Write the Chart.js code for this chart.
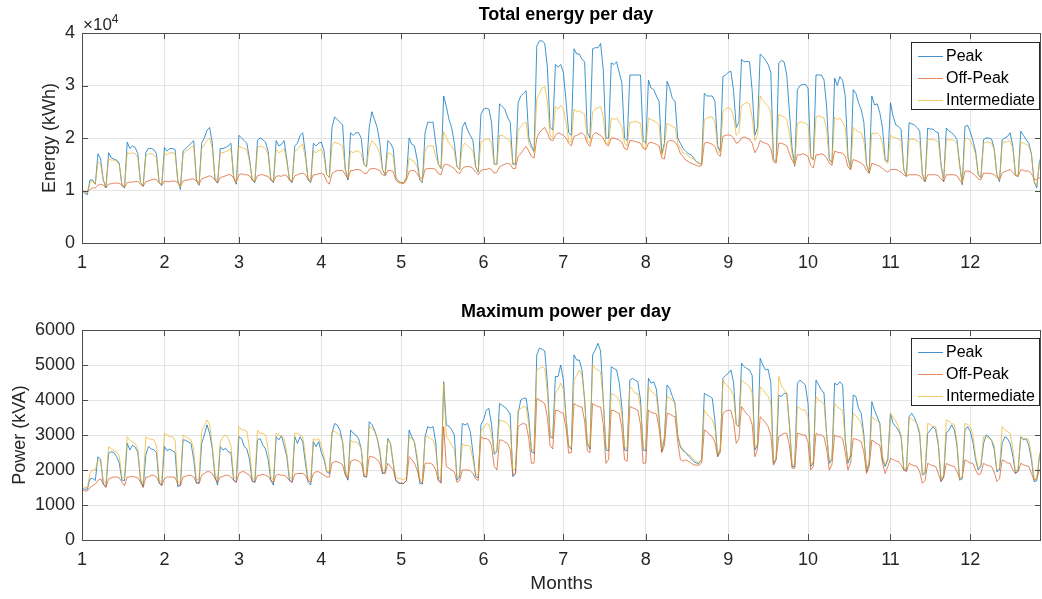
<!DOCTYPE html>
<html>
<head>
<meta charset="utf-8">
<title>Energy and power per day</title>
<script src="https://cdn.jsdelivr.net/npm/chart.js@4.4.0/dist/chart.umd.min.js"></script>
<style>
  body { margin: 0; width: 1042px; height: 599px; background: #fff; position: relative; overflow: hidden;
         font-family: "Liberation Sans", Arial, Helvetica, sans-serif; }
  .wrap { position: absolute; left: 0; width: 1042px; }
  .title { position: absolute; font-weight: bold; font-size: 18px; color: #000; transform: translateX(-50%); white-space: nowrap; }
  .exp { position: absolute; left: 83px; top: 12px; font-size: 17px; color: #262626; }
  .exp sup { font-size: 12px; }
  .legend { position: absolute; left: 911px; width: 127px; height: 66px; border: 1px solid #262626; background: #fff;
            font-size: 16px; color: #000; }
  .legend .row { position: absolute; left: 6px; height: 22px; line-height: 22px; white-space: nowrap; }
  .legend .sw { display: inline-block; width: 25px; height: 0; border-top: 1px solid; vertical-align: middle; margin-right: 3px; }
</style>
</head>
<body>
<div class="wrap" style="top:0;height:275px"><canvas id="energyChart" width="1042" height="275"></canvas></div>
<div class="wrap" style="top:275px;height:324px"><canvas id="powerChart" width="1042" height="324"></canvas></div>
<div class="title" style="left:566px;top:4px">Total energy per day</div>
<div class="title" style="left:566px;top:301px">Maximum power per day</div>
<div class="exp">&times;10<sup>4</sup></div>
<div class="legend" id="energyLegend" style="top:42px"></div>
<div class="legend" id="powerLegend" style="top:338px"></div>

<script>
// x axis is the day of the year (day 0 = 1 January), ticks at the first of each month
const monthStarts = [0, 31, 59, 90, 120, 151, 181, 212, 243, 273, 304, 334];
const monthLabels = ['1', '2', '3', '4', '5', '6', '7', '8', '9', '10', '11', '12'];
const seriesNames = ['Peak', 'Off-Peak', 'Intermediate'];
const seriesColors = ['rgba(0,114,189,0.75)', 'rgba(217,83,25,0.7)', 'rgba(237,177,32,0.7)'];
const energyTicks = [0, 1, 2, 3, 4];
const powerTicks = [0, 1000, 2000, 3000, 4000, 5000, 6000];

// Total energy per day, x10^4 kWh (one line per week, Mon..Sun)
const energyPeak = [
  1.00, 0.95, 0.92,
  1.20, 1.20, 1.12, 1.70, 1.60, 1.20, 1.05,
  1.72, 1.62, 1.60, 1.58, 1.52, 1.10, 1.05,
  1.92, 1.80, 1.85, 1.82, 1.70, 1.15, 1.08,
  1.72, 1.80, 1.80, 1.78, 1.70, 1.15, 1.10,
  1.82, 1.75, 1.80, 1.80, 1.78, 1.20, 1.02,
  1.75, 1.80, 1.85, 1.90, 1.95, 1.20, 1.10,
  1.90, 2.00, 2.15, 2.20, 1.90, 1.20, 1.15,
  1.80, 1.80, 1.82, 1.85, 1.90, 1.25, 1.12,
  2.05, 2.00, 1.95, 1.90, 1.60, 1.20, 1.15,
  1.95, 2.00, 1.97, 1.92, 1.75, 1.20, 1.15,
  1.95, 1.85, 1.88, 1.95, 1.60, 1.20, 1.15,
  1.85, 1.90, 2.05, 2.10, 1.70, 1.20, 1.15,
  1.90, 1.85, 1.90, 1.92, 1.75, 1.30, 1.25,
  2.20, 2.40, 2.35, 2.30, 2.25, 1.40, 1.20,
  2.10, 2.05, 2.10, 2.10, 2.00, 1.50, 1.45,
  2.20, 2.50, 2.35, 2.20, 1.90, 1.40, 1.30,
  1.95, 1.90, 1.80, 1.25, 1.18, 1.15, 1.15,
  1.25, 2.00, 1.88, 1.85, 1.60, 1.20, 1.15,
  2.10, 2.30, 2.30, 2.30, 1.90, 1.50, 1.42,
  2.80, 2.60, 2.35, 2.20, 1.90, 1.45, 1.40,
  2.20, 2.30, 2.15, 2.05, 1.95, 1.45, 1.35,
  2.45, 2.55, 2.57, 2.55, 2.30, 1.50, 1.50,
  2.65, 2.60, 2.55, 2.40, 2.30, 1.50, 1.50,
  2.67, 2.80, 2.85, 2.90, 2.00, 1.85, 1.75,
  3.75, 3.85, 3.85, 3.80, 3.35, 2.20, 2.15,
  3.40, 3.35, 3.40, 3.25, 2.70, 2.10, 2.05,
  3.70, 3.60, 3.60, 3.50, 3.45, 2.10, 2.00,
  3.70, 3.72, 3.72, 3.80, 3.30, 2.00, 2.00,
  3.43, 3.40, 3.45, 3.25, 3.05, 2.00, 1.95,
  3.20, 3.20, 3.20, 3.20, 3.20, 1.95, 1.90,
  3.10, 2.95, 2.92, 2.80, 2.70, 1.70, 1.90,
  3.08, 2.95, 2.75, 2.70, 2.00, 1.90, 1.80,
  1.75, 1.70, 1.68, 1.62, 1.55, 1.52, 1.50,
  2.85, 2.80, 2.80, 2.80, 2.70, 1.85, 1.75,
  3.17, 3.20, 3.25, 3.27, 2.90, 2.20, 2.30,
  3.50, 3.45, 3.46, 3.45, 2.90, 2.05, 2.20,
  3.60, 3.55, 3.48, 3.40, 3.25, 1.60, 1.55,
  3.43, 3.48, 3.45, 3.20, 2.50, 1.80, 1.46,
  2.92, 3.00, 3.02, 3.02, 2.95, 1.65, 1.59,
  3.20, 3.20, 3.20, 3.11, 2.60, 1.60, 1.52,
  3.14, 3.00, 3.17, 3.10, 2.80, 1.65, 1.40,
  2.92, 2.85, 2.67, 2.54, 2.30, 1.50, 1.33,
  2.80, 2.63, 2.65, 2.48, 2.20, 1.59, 1.55,
  2.67, 2.41, 2.25, 2.22, 2.16, 1.40, 1.27,
  2.29, 2.27, 2.25, 2.20, 2.13, 1.30, 1.17,
  2.19, 2.17, 2.17, 2.12, 2.10, 1.50, 1.17,
  2.19, 2.13, 2.10, 2.05, 1.97, 1.50, 1.11,
  2.22, 2.24, 2.12, 1.95, 1.75, 1.30, 1.24,
  1.97, 2.00, 2.00, 1.98, 1.80, 1.30, 1.17,
  1.97, 2.00, 2.03, 2.10, 1.85, 1.30, 1.27,
  2.13, 2.05, 1.97, 1.90, 1.70, 1.17, 1.05,
  1.55, 1.70
];

const energyOffPeak = [
  1.00, 0.98, 0.97,
  1.02, 1.05, 1.05, 1.10, 1.12, 1.10, 1.05,
  1.12, 1.13, 1.14, 1.14, 1.14, 1.10, 1.06,
  1.15, 1.16, 1.16, 1.17, 1.17, 1.12, 1.08,
  1.17, 1.18, 1.20, 1.22, 1.20, 1.15, 1.10,
  1.18, 1.17, 1.17, 1.18, 1.18, 1.15, 1.08,
  1.18, 1.20, 1.20, 1.22, 1.22, 1.18, 1.12,
  1.22, 1.24, 1.26, 1.28, 1.26, 1.20, 1.14,
  1.25, 1.26, 1.28, 1.30, 1.30, 1.24, 1.15,
  1.30, 1.32, 1.30, 1.30, 1.28, 1.20, 1.17,
  1.28, 1.30, 1.30, 1.28, 1.27, 1.20, 1.17,
  1.27, 1.28, 1.27, 1.30, 1.28, 1.20, 1.17,
  1.28, 1.30, 1.32, 1.33, 1.30, 1.22, 1.18,
  1.30, 1.30, 1.32, 1.33, 1.30, 1.18, 1.12,
  1.32, 1.36, 1.38, 1.38, 1.38, 1.30, 1.22,
  1.38, 1.38, 1.40, 1.40, 1.38, 1.33, 1.32,
  1.40, 1.42, 1.42, 1.40, 1.38, 1.30, 1.28,
  1.38, 1.38, 1.36, 1.20, 1.15, 1.14, 1.13,
  1.20, 1.36, 1.38, 1.38, 1.32, 1.25, 1.22,
  1.40, 1.42, 1.42, 1.42, 1.40, 1.32, 1.30,
  1.48, 1.50, 1.48, 1.45, 1.42, 1.35, 1.32,
  1.42, 1.45, 1.46, 1.45, 1.42, 1.35, 1.30,
  1.38, 1.40, 1.40, 1.42, 1.40, 1.33, 1.35,
  1.45, 1.48, 1.50, 1.52, 1.50, 1.42, 1.42,
  1.65, 1.70, 1.78, 1.84, 1.75, 1.65, 1.62,
  2.00, 2.10, 2.16, 2.20, 2.10, 1.97, 1.95,
  2.05, 2.10, 2.08, 2.05, 2.00, 1.90, 1.85,
  2.03, 2.05, 2.08, 2.10, 2.05, 1.90, 1.84,
  2.05, 2.10, 2.08, 2.05, 2.00, 1.88, 1.85,
  2.00, 2.00, 1.98, 1.96, 1.92, 1.80, 1.78,
  1.95, 1.95, 1.93, 1.92, 1.90, 1.80, 1.78,
  1.90, 1.92, 1.90, 1.88, 1.85, 1.62, 1.60,
  1.92, 1.95, 1.95, 1.92, 1.85, 1.70, 1.65,
  1.58, 1.55, 1.52, 1.50, 1.48, 1.46, 1.48,
  1.90, 1.92, 1.90, 1.88, 1.84, 1.70, 1.65,
  2.03, 2.05, 2.06, 2.05, 2.00, 1.90, 1.92,
  2.00, 2.02, 2.00, 1.98, 1.90, 1.72, 1.80,
  1.95, 1.92, 1.90, 1.88, 1.80, 1.55, 1.52,
  1.90, 1.90, 1.88, 1.85, 1.70, 1.58, 1.49,
  1.68, 1.68, 1.70, 1.68, 1.65, 1.48, 1.43,
  1.68, 1.68, 1.70, 1.68, 1.62, 1.52, 1.48,
  1.75, 1.73, 1.72, 1.71, 1.65, 1.45, 1.40,
  1.59, 1.57, 1.55, 1.52, 1.48, 1.38, 1.33,
  1.52, 1.50, 1.48, 1.46, 1.42, 1.38, 1.35,
  1.40, 1.40, 1.40, 1.38, 1.35, 1.30, 1.27,
  1.30, 1.30, 1.30, 1.30, 1.28, 1.22, 1.17,
  1.30, 1.30, 1.30, 1.30, 1.28, 1.22, 1.17,
  1.30, 1.30, 1.30, 1.30, 1.28, 1.20, 1.14,
  1.37, 1.37, 1.36, 1.32, 1.28, 1.22, 1.20,
  1.33, 1.33, 1.33, 1.32, 1.30, 1.25, 1.20,
  1.33, 1.36, 1.38, 1.40, 1.35, 1.28, 1.27,
  1.40, 1.38, 1.37, 1.37, 1.32, 1.22, 1.20,
  1.24, 1.24
];

const energyIntermediate = [
  1.00, 0.97, 0.95,
  1.15, 1.18, 1.12, 1.55, 1.50, 1.20, 1.08,
  1.60, 1.58, 1.58, 1.55, 1.50, 1.12, 1.08,
  1.72, 1.70, 1.72, 1.70, 1.62, 1.15, 1.10,
  1.65, 1.70, 1.70, 1.68, 1.62, 1.15, 1.12,
  1.72, 1.68, 1.72, 1.72, 1.70, 1.20, 1.05,
  1.70, 1.75, 1.78, 1.82, 1.85, 1.22, 1.12,
  1.80, 1.88, 1.95, 2.00, 1.80, 1.25, 1.18,
  1.72, 1.72, 1.74, 1.76, 1.80, 1.28, 1.15,
  1.85, 1.82, 1.80, 1.78, 1.55, 1.22, 1.18,
  1.82, 1.85, 1.83, 1.80, 1.68, 1.22, 1.18,
  1.78, 1.72, 1.75, 1.80, 1.55, 1.22, 1.18,
  1.75, 1.78, 1.85, 1.88, 1.62, 1.22, 1.18,
  1.75, 1.72, 1.76, 1.78, 1.65, 1.30, 1.25,
  1.85, 1.92, 1.90, 1.88, 1.85, 1.40, 1.25,
  1.75, 1.72, 1.75, 1.75, 1.70, 1.50, 1.45,
  1.80, 1.95, 1.90, 1.82, 1.70, 1.40, 1.32,
  1.72, 1.70, 1.65, 1.25, 1.18, 1.15, 1.15,
  1.25, 1.62, 1.58, 1.55, 1.45, 1.22, 1.17,
  1.75, 1.85, 1.85, 1.85, 1.65, 1.50, 1.42,
  2.12, 2.00, 1.90, 1.85, 1.75, 1.45, 1.40,
  1.85, 1.90, 1.85, 1.80, 1.75, 1.45, 1.37,
  1.92, 1.95, 1.98, 1.98, 1.90, 1.50, 1.50,
  2.05, 2.05, 2.02, 1.98, 1.95, 1.52, 1.52,
  2.15, 2.22, 2.28, 2.30, 1.90, 1.80, 1.72,
  2.75, 2.85, 2.95, 2.98, 2.70, 2.05, 2.00,
  2.60, 2.55, 2.62, 2.55, 2.30, 1.95, 1.92,
  2.55, 2.50, 2.52, 2.48, 2.45, 1.95, 1.90,
  2.50, 2.55, 2.58, 2.60, 2.40, 1.90, 1.90,
  2.38, 2.35, 2.38, 2.30, 2.22, 1.90, 1.85,
  2.30, 2.30, 2.32, 2.30, 2.28, 1.82, 1.80,
  2.38, 2.35, 2.33, 2.30, 2.25, 1.65, 1.85,
  2.28, 2.25, 2.22, 2.20, 1.90, 1.80, 1.72,
  1.70, 1.65, 1.62, 1.60, 1.55, 1.52, 1.50,
  2.35, 2.38, 2.40, 2.40, 2.30, 1.80, 1.70,
  2.50, 2.55, 2.58, 2.55, 2.40, 2.05, 2.10,
  2.62, 2.65, 2.68, 2.65, 2.40, 1.95, 2.05,
  2.80, 2.72, 2.65, 2.60, 2.50, 1.60, 1.55,
  2.45, 2.42, 2.40, 2.35, 2.10, 1.70, 1.48,
  2.28, 2.30, 2.30, 2.28, 2.25, 1.62, 1.58,
  2.40, 2.42, 2.40, 2.38, 2.15, 1.58, 1.52,
  2.40, 2.35, 2.38, 2.30, 2.20, 1.62, 1.42,
  2.20, 2.15, 2.12, 2.10, 1.95, 1.50, 1.35,
  2.10, 2.08, 2.10, 2.05, 1.90, 1.55, 1.52,
  2.05, 2.02, 2.00, 1.98, 1.95, 1.40, 1.28,
  1.97, 1.98, 1.97, 1.95, 1.92, 1.32, 1.20,
  1.97, 1.97, 1.98, 1.95, 1.93, 1.48, 1.20,
  1.97, 1.96, 1.97, 1.95, 1.90, 1.48, 1.15,
  1.98, 2.00, 1.95, 1.85, 1.70, 1.30, 1.25,
  1.90, 1.92, 1.92, 1.90, 1.78, 1.30, 1.20,
  1.90, 1.92, 1.93, 1.95, 1.80, 1.30, 1.27,
  1.92, 1.90, 1.88, 1.85, 1.68, 1.18, 1.08,
  1.50, 1.62
];

// Maximum power per day, kVA
const powerPeak = [
  1480, 1450, 1450,
  1750, 1760, 1700, 2380, 2300, 1600, 1520,
  2480, 2520, 2500, 2380, 2200, 1710, 1700,
  2760, 2570, 2710, 2650, 2500, 1710, 1520,
  2430, 2670, 2600, 2580, 2500, 1620, 1570,
  2670, 2550, 2600, 2550, 2500, 1520, 1570,
  2860, 2850, 2800, 2760, 2300, 1620, 1650,
  2760, 3000, 3290, 3050, 2600, 1810, 1570,
  2670, 2570, 2620, 2520, 2500, 1710, 1650,
  2950, 2900, 2670, 2600, 2300, 1670, 1650,
  2860, 2900, 2710, 2600, 2300, 1710, 1570,
  2950, 2860, 2980, 2700, 2380, 1710, 1650,
  2950, 2760, 2950, 2800, 2200, 1650, 1570,
  2810, 2670, 2810, 2500, 2300, 1950, 1900,
  3050, 3330, 3280, 3140, 2800, 1900, 1710,
  3140, 3050, 3000, 2900, 2600, 1810, 1800,
  3380, 3300, 3140, 2900, 2500, 1900, 1950,
  2900, 2750, 2200, 1700, 1620, 1620, 1620,
  1700, 3140, 2950, 2800, 2300, 1620, 1600,
  2950, 3240, 3200, 3240, 2800, 1710, 1650,
  4520, 3290, 3250, 3150, 3000, 1710, 1800,
  3330, 3290, 3330, 3100, 2500, 1810, 1780,
  3290, 3430, 3710, 3760, 3300, 2450, 2520,
  3900, 3850, 3800, 3710, 3600, 1810, 1900,
  3620, 4000, 4050, 4050, 3500, 2520, 2480,
  5290, 5480, 5450, 5400, 4500, 2950, 2900,
  4670, 4670, 5000, 4570, 3500, 2670, 2600,
  5290, 5140, 5140, 4860, 4000, 2760, 2600,
  5290, 5430, 5620, 5400, 4000, 2570, 2550,
  4950, 4900, 4860, 4500, 3800, 2570, 2550,
  4570, 4620, 4570, 4520, 4000, 2570, 2550,
  4620, 4480, 4520, 4300, 3500, 2520, 2900,
  4430, 4330, 4100, 3900, 3000, 2650, 2550,
  2500, 2400, 2330, 2240, 2200, 2190, 2300,
  4190, 4140, 4100, 4050, 3400, 2380, 2600,
  4620, 4700, 4760, 4860, 4500, 3300, 3240,
  5050, 4950, 4900, 4860, 4700, 2570, 2700,
  5190, 5000, 4860, 4880, 4500, 2190, 2300,
  4140, 4100, 4190, 4190, 3300, 2100, 2100,
  4480, 4570, 4500, 4430, 3900, 2100, 2200,
  4570, 4430, 4290, 4200, 3000, 2190, 2300,
  4480, 4430, 4520, 4430, 2860, 2190, 2400,
  4140, 4100, 3760, 3620, 3000, 1950, 2200,
  3950, 3710, 3520, 3330, 2290, 2100, 2300,
  3620, 3330, 3240, 3140, 2950, 2000, 2000,
  3520, 3620, 3500, 3300, 3000, 1860, 1900,
  3050, 3140, 3240, 3150, 2700, 1670, 1800,
  3050, 3140, 3290, 3150, 2700, 1710, 1750,
  3140, 3240, 3100, 2800, 2300, 2000, 2100,
  2760, 3000, 2950, 2850, 2600, 1950, 2000,
  2760, 2950, 2900, 2760, 2400, 1900, 2000,
  2950, 2860, 2900, 2700, 2300, 1670, 1690,
  2380, 2710
];

const powerOffPeak = [
  1450, 1400, 1400,
  1500, 1550, 1600, 1700, 1750, 1600, 1500,
  1750, 1780, 1800, 1800, 1780, 1650, 1550,
  1800, 1800, 1820, 1800, 1780, 1650, 1500,
  1800, 1800, 1850, 1850, 1800, 1650, 1550,
  1750, 1800, 1800, 1800, 1780, 1600, 1550,
  1800, 1820, 1850, 1850, 1800, 1650, 1600,
  1850, 1900, 1950, 1950, 1900, 1750, 1650,
  1800, 1820, 1850, 1850, 1800, 1700, 1650,
  1900, 1950, 1950, 1900, 1850, 1700, 1650,
  1850, 1850, 1880, 1850, 1820, 1700, 1650,
  1850, 1880, 1850, 1850, 1800, 1700, 1650,
  1880, 1900, 1900, 1900, 1850, 1700, 1650,
  1900, 1950, 1950, 1900, 1850, 1800, 1800,
  2200, 2240, 2240, 2200, 2150, 1850, 1750,
  2250, 2280, 2290, 2250, 2200, 1850, 1800,
  2380, 2380, 2350, 2300, 2200, 1900, 1900,
  2190, 2100, 2000, 1710, 1650, 1620, 1620,
  1700, 2380, 2300, 2200, 2000, 1700, 1620,
  2190, 2200, 2190, 2150, 2000, 1700, 1620,
  3240, 2100, 2050, 2000, 1950, 1650, 1700,
  2000, 2000, 2000, 1980, 1900, 1750, 1700,
  2950, 2900, 2900, 2860, 2700, 2100, 2000,
  2860, 2850, 2800, 2760, 2600, 1850, 1900,
  3240, 3300, 3330, 3300, 2900, 2190, 2200,
  4050, 4000, 3950, 3900, 3500, 2700, 2600,
  3710, 3700, 3650, 3620, 3200, 2480, 2500,
  3900, 3850, 3810, 3800, 3400, 2550, 2500,
  3900, 3850, 3810, 3800, 3300, 2190, 2300,
  3710, 3700, 3650, 3620, 3200, 2300, 2250,
  3810, 3780, 3750, 3710, 3300, 2190, 2200,
  3710, 3650, 3620, 3600, 3200, 2500, 2700,
  3620, 3600, 3550, 3520, 2800, 2300, 2250,
  2290, 2250, 2200, 2150, 2140, 2140, 2200,
  3140, 3100, 3000, 2950, 2800, 2380, 2500,
  3620, 3680, 3710, 3700, 3400, 2760, 2900,
  3810, 3700, 3600, 3520, 3300, 2380, 2600,
  3520, 3450, 3350, 3240, 3000, 2140, 2300,
  2950, 3000, 3050, 3050, 2700, 2050, 2050,
  3050, 3030, 3000, 3000, 2800, 2000, 2100,
  3050, 3000, 3000, 2950, 2600, 2000, 2150,
  3000, 2950, 2950, 2900, 2500, 2000, 2200,
  2900, 2880, 2850, 2810, 2500, 1900, 2100,
  2860, 2800, 2750, 2710, 2200, 1900, 2100,
  2330, 2300, 2260, 2240, 2150, 2000, 1950,
  2190, 2150, 2120, 2100, 1950, 1620, 1700,
  2190, 2150, 2120, 2100, 1900, 1670, 1800,
  2190, 2150, 2120, 2100, 1950, 1760, 1800,
  2290, 2250, 2200, 2190, 2000, 1860, 1900,
  2190, 2150, 2120, 2100, 1950, 1670, 1750,
  2290, 2250, 2200, 2190, 2000, 1900, 1950,
  2190, 2150, 2120, 2100, 1900, 1710, 1750,
  2000, 2100
];

const powerIntermediate = [
  1550, 1500, 1500,
  1900, 2000, 2000, 2290, 2250, 1700, 1600,
  2670, 2600, 2550, 2520, 2400, 1800, 1750,
  2950, 2850, 2800, 2760, 2600, 1750, 1600,
  2950, 2900, 2880, 2860, 2700, 1700, 1650,
  3050, 3000, 2950, 2950, 2850, 1650, 1650,
  3000, 2950, 2900, 2860, 2600, 1700, 1750,
  3100, 3250, 3430, 3300, 2700, 1900, 1700,
  2800, 2950, 3000, 2900, 2700, 1800, 1750,
  3240, 3150, 3140, 3100, 2600, 1750, 1750,
  3140, 3050, 3050, 3000, 2600, 1800, 1700,
  3050, 3000, 2950, 2900, 2500, 1800, 1750,
  3050, 3050, 3000, 2950, 2400, 1750, 1700,
  2900, 2850, 2900, 2700, 2400, 1950, 1950,
  3100, 3100, 3050, 3000, 2800, 2000, 1800,
  2850, 2800, 2800, 2750, 2600, 1900, 1850,
  3240, 3200, 3100, 2900, 2600, 2000, 2000,
  2860, 2760, 2200, 1800, 1750, 1750, 1710,
  1800, 2950, 2900, 2800, 2400, 1750, 1700,
  2950, 2950, 2900, 2860, 2600, 1800, 1750,
  4480, 2950, 2850, 2700, 2600, 1800, 1850,
  2750, 2700, 2700, 2670, 2300, 1900, 1850,
  3140, 3200, 3330, 3300, 3000, 2500, 2550,
  3430, 3400, 3380, 3330, 3200, 2000, 2050,
  3710, 3760, 3810, 3800, 3300, 2600, 2550,
  4860, 4900, 4950, 4900, 4200, 3000, 2900,
  4190, 4300, 4480, 4300, 3500, 2700, 2650,
  4570, 4700, 4860, 4700, 4000, 2800, 2650,
  5000, 4900, 4860, 4800, 4000, 2650, 2600,
  4190, 4150, 4100, 4000, 3600, 2650, 2600,
  4380, 4300, 4190, 4190, 3800, 2650, 2600,
  4380, 4250, 4190, 4100, 3400, 2600, 2950,
  4100, 4050, 4000, 3900, 3000, 2700, 2600,
  2500, 2450, 2400, 2300, 2250, 2200, 2300,
  3710, 3600, 3520, 3430, 3200, 2450, 2600,
  4570, 4450, 4380, 4290, 4100, 3300, 3240,
  4570, 4500, 4450, 4380, 4200, 2650, 2750,
  4380, 4300, 4200, 4100, 3900, 2250, 2350,
  4670, 4400, 4300, 4190, 3300, 2150, 2150,
  3810, 3760, 3710, 3710, 3500, 2150, 2250,
  4100, 4000, 3950, 3900, 3000, 2250, 2350,
  3900, 3810, 3750, 3710, 2900, 2250, 2450,
  3620, 3550, 3450, 3330, 2900, 2000, 2250,
  3520, 3450, 3400, 3330, 2400, 2150, 2350,
  3620, 3500, 3400, 3240, 3000, 2050, 2050,
  3520, 3450, 3400, 3330, 3100, 1900, 1950,
  3330, 3300, 3240, 3240, 2800, 1750, 1850,
  3430, 3400, 3330, 3300, 2800, 1750, 1800,
  3330, 3300, 3240, 3000, 2400, 2050, 2150,
  2950, 2950, 2900, 2860, 2700, 2000, 2050,
  3240, 3150, 3100, 3050, 2600, 1950, 2050,
  2950, 2900, 2900, 2860, 2400, 1750, 1750,
  2400, 2750
];

const textColor = '#262626';
const fontFamily = '"Liberation Sans", Arial, Helvetica, sans-serif';

// MATLAB style box with inward tick marks
const matlabFrame = {
  id: 'matlabFrame',
  afterDatasetsDraw(chart) {
    const { ctx, chartArea: a, scales: { x, y } } = chart;
    ctx.save();
    ctx.strokeStyle = '#4d4d4d';
    ctx.lineWidth = 1;
    ctx.beginPath();
    x.ticks.forEach(t => {
      const px = Math.round(x.getPixelForValue(t.value)) + 0.5;
      ctx.moveTo(px, a.bottom); ctx.lineTo(px, a.bottom - 6);
      ctx.moveTo(px, a.top); ctx.lineTo(px, a.top + 6);
    });
    y.ticks.forEach(t => {
      const py = Math.round(y.getPixelForValue(t.value)) + 0.5;
      ctx.moveTo(a.left, py); ctx.lineTo(a.left + 6, py);
      ctx.moveTo(a.right, py); ctx.lineTo(a.right - 6, py);
    });
    ctx.stroke();
    ctx.strokeRect(Math.round(a.left) + 0.5, Math.round(a.top) + 0.5,
                   Math.round(a.right - a.left) - 1, Math.round(a.bottom - a.top));
    ctx.restore();
  }
};

function makeDatasets(peak, offPeak, intermediate) {
  return [peak, offPeak, intermediate].map((values, i) => ({
    label: seriesNames[i],
    data: values.map((v, day) => ({ x: day, y: v })),
    borderColor: seriesColors[i],
    borderWidth: 1,
    pointRadius: 0,
    tension: 0,
    order: 3 - i
  }));
}

function makeChart(canvasId, datasets, cfg) {
  return new Chart(document.getElementById(canvasId), {
    type: 'line',
    data: { datasets: datasets },
    plugins: [matlabFrame],
    options: {
      responsive: false,
      animation: false,
      devicePixelRatio: 1,
      layout: { padding: { top: cfg.top, right: 1, left: 0, bottom: 0 } },
      plugins: { legend: { display: false }, tooltip: { enabled: false } },
      scales: {
        x: {
          type: 'linear',
          min: 0,
          max: 360.6,
          afterBuildTicks: s => { s.ticks = monthStarts.map(v => ({ value: v })); },
          afterFit: s => { s.height = cfg.xHeight; },
          ticks: {
            autoSkip: false, maxRotation: 0, padding: 9, color: textColor,
            font: { family: fontFamily, size: 18 },
            callback: (v, i) => monthLabels[i]
          },
          grid: { color: '#e4e4e4', drawTicks: false },
          border: { display: false },
          title: {
            display: !!cfg.xTitle, text: cfg.xTitle, color: textColor,
            font: { family: fontFamily, size: 19 }, padding: { top: 0, bottom: 4 }
          }
        },
        y: {
          min: cfg.yTicks[0],
          max: cfg.yTicks[cfg.yTicks.length - 1],
          afterBuildTicks: s => { s.ticks = cfg.yTicks.map(v => ({ value: v })); },
          afterFit: s => { s.width = 82; },
          ticks: {
            padding: 7, color: textColor, font: { family: fontFamily, size: 18 },
            callback: v => String(v)
          },
          grid: { color: '#e4e4e4', drawTicks: false },
          border: { display: false },
          title: {
            display: true, text: cfg.yTitle, color: textColor,
            font: { family: fontFamily, size: 18 }, padding: { top: cfg.yTitlePad, bottom: 0 }
          }
        }
      }
    }
  });
}

function buildLegend(id) {
  const box = document.getElementById(id);
  seriesNames.forEach((name, i) => {
    const row = document.createElement('div');
    row.className = 'row';
    row.style.top = (2 + i * 22) + 'px';
    const sw = document.createElement('span');
    sw.className = 'sw';
    sw.style.borderTopColor = seriesColors[i];
    row.appendChild(sw);
    row.appendChild(document.createTextNode(name));
    box.appendChild(row);
  });
}

makeChart('energyChart', makeDatasets(energyPeak, energyOffPeak, energyIntermediate),
  { top: 33, xHeight: 32, yTicks: energyTicks, yTitle: 'Energy (kWh)', yTitlePad: 39, xTitle: '' });

makeChart('powerChart', makeDatasets(powerPeak, powerOffPeak, powerIntermediate),
  { top: 55, xHeight: 59, yTicks: powerTicks, yTitle: 'Power (kVA)', yTitlePad: 9, xTitle: 'Months' });

buildLegend('energyLegend');
buildLegend('powerLegend');
</script>
</body>
</html>
